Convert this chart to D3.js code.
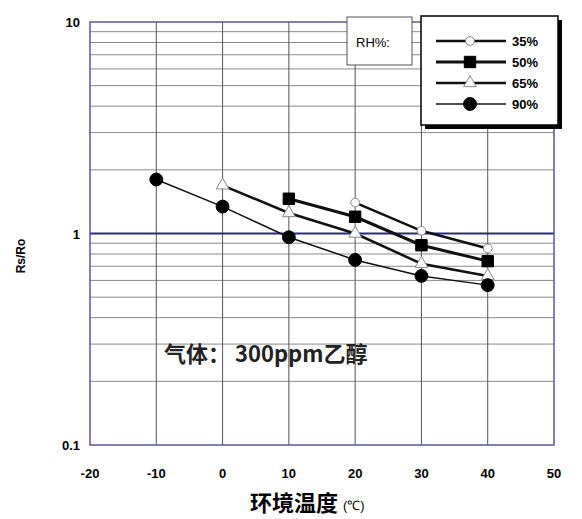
<!DOCTYPE html>
<html>
<head>
<meta charset="utf-8">
<script src="https://cdn.jsdelivr.net/npm/d3@7"></script>
<style>
  body { margin: 0; background: #fff; }
  svg { display: block; }
</style>
</head>
<body>
<svg id="chart" width="582" height="519"></svg>
<script>
// RH series values (temperature, Rs/Ro)
var rh35 = [[20, 1.40], [30, 1.03], [40, 0.85]];
var rh50 = [[10, 1.46], [20, 1.20], [30, 0.88], [40, 0.74]];
var rh65 = [[0, 1.69], [10, 1.25], [20, 1.00], [30, 0.72], [40, 0.63]];
var rh90 = [[-10, 1.80], [0, 1.34], [10, 0.96], [20, 0.75], [30, 0.63], [40, 0.57]];
var xTicks = [-20, -10, 0, 10, 20, 30, 40, 50];
var yTicks = [0.1, 1, 10];
var legendLabels = ['35%', '50%', '65%', '90%'];

var svg = d3.select('#chart');
var pLeft = 90, pRight = 554, pTop = 22, pBottom = 445;

var x = d3.scaleLinear().domain([-20, 50]).range([pLeft, pRight]);
var y = d3.scaleLog().domain([0.1, 10]).range([pBottom, pTop]);

var grid = svg.append('g');
// minor horizontal grid lines
[0.1, 1].forEach(function(dec) {
  for (var k = 2; k <= 9; k++) {
    grid.append('line')
      .attr('x1', pLeft).attr('x2', pRight)
      .attr('y1', y(dec * k)).attr('y2', y(dec * k))
      .attr('stroke', '#8a8a8a').attr('stroke-width', 1);
  }
});
// vertical grid
xTicks.slice(1, -1).forEach(function(t) {
  grid.append('line')
    .attr('x1', x(t)).attr('x2', x(t))
    .attr('y1', pTop).attr('y2', pBottom)
    .attr('stroke', '#555').attr('stroke-width', 1);
});
// major line at 1
grid.append('line')
  .attr('x1', pLeft).attr('x2', pRight)
  .attr('y1', y(1)).attr('y2', y(1))
  .attr('stroke', '#2a2a7a').attr('stroke-width', 2);

svg.append('rect')
  .attr('x', pLeft).attr('y', pTop)
  .attr('width', pRight - pLeft).attr('height', pBottom - pTop)
  .attr('fill', 'none').attr('stroke', '#5a55a0').attr('stroke-width', 1.5);

// tick labels
svg.selectAll('.xt').data(xTicks).enter().append('text')
  .attr('x', function(d) { return x(d); })
  .attr('y', 478)
  .attr('text-anchor', 'middle')
  .attr('font-family', 'Liberation Sans, Arial, sans-serif')
  .attr('font-weight', 'bold').attr('font-size', 13)
  .text(function(d) { return d; });

svg.selectAll('.yt').data(yTicks).enter().append('text')
  .attr('x', 80)
  .attr('y', function(d) { return y(d) + 5; })
  .attr('text-anchor', 'end')
  .attr('font-family', 'Liberation Sans, Arial, sans-serif')
  .attr('font-weight', 'bold').attr('font-size', 13)
  .text(function(d) { return d; });

svg.append('text')
  .attr('transform', 'translate(25,256) rotate(-90)')
  .attr('text-anchor', 'middle')
  .attr('font-family', 'Liberation Sans, Arial, sans-serif')
  .attr('font-weight', 'bold').attr('font-size', 12)
  .text('Rs/Ro');

svg.append('text')
  .attr('x', 250).attr('y', 511)
  .attr('font-family', 'Noto Sans CJK SC, sans-serif')
  .attr('font-weight', 'bold').attr('font-size', 22)
  .text('环境温度');
svg.append('text')
  .attr('x', 343).attr('y', 510)
  .attr('font-family', 'Liberation Sans, Arial, sans-serif')
  .attr('font-size', 13)
  .text('(℃)');

svg.append('text')
  .attr('x', 164).attr('y', 362)
  .attr('font-family', 'Noto Sans CJK SC, sans-serif')
  .attr('font-weight', 'bold').attr('font-size', 22)
  .attr('fill', '#222')
  .text('气体： 300ppm乙醇');

// series
var series = [
  {data: rh35, shape: 'circle', fill: '#fff', width: 2.5},
  {data: rh50, shape: 'square', fill: '#000', width: 3},
  {data: rh65, shape: 'triangle', fill: '#fff', width: 2.5},
  {data: rh90, shape: 'circle', fill: '#000', width: 1.5}
];

var line = d3.line()
  .x(function(d) { return x(d[0]); })
  .y(function(d) { return y(d[1]); });

function marker(g, shape, fill, cx, cy) {
  var sym = shape === 'square' ? d3.symbolSquare : shape === 'triangle' ? d3.symbolTriangle : d3.symbolCircle;
  var size = shape === 'square' ? 130 : shape === 'triangle' ? 70 : (fill === '#000' ? 130 : 60);
  g.append('path')
    .attr('d', d3.symbol().type(sym).size(size)())
    .attr('transform', 'translate(' + cx + ',' + cy + ')')
    .attr('fill', fill)
    .attr('stroke', fill === '#000' ? '#000' : '#888')
    .attr('stroke-width', 1);
}

var plot = svg.append('g');
series.forEach(function(s) {
  plot.append('path').datum(s.data)
    .attr('d', line)
    .attr('fill', 'none').attr('stroke', '#111').attr('stroke-width', s.width);
});
series.forEach(function(s) {
  s.data.forEach(function(d) { marker(plot, s.shape, s.fill, x(d[0]), y(d[1])); });
});

// RH% box
svg.append('rect').attr('x', 347).attr('y', 17).attr('width', 65).attr('height', 48)
  .attr('fill', '#fff').attr('stroke', '#555').attr('stroke-width', 1);
svg.append('text').attr('x', 356).attr('y', 47)
  .attr('font-family', 'Liberation Sans, Arial, sans-serif')
  .attr('font-size', 13).text('RH%:');

// legend box with shadow
svg.append('rect').attr('x', 425).attr('y', 20).attr('width', 137).attr('height', 109)
  .attr('fill', '#000');
svg.append('rect').attr('x', 421).attr('y', 16).attr('width', 137).attr('height', 109)
  .attr('fill', '#fff').attr('stroke', '#000').attr('stroke-width', 1.5);

var leg = svg.append('g');
series.forEach(function(s, i) {
  var ly = 41 + i * 21;
  leg.append('line').attr('x1', 436).attr('x2', 506).attr('y1', ly).attr('y2', ly)
    .attr('stroke', '#111').attr('stroke-width', s.width);
  marker(leg, s.shape, s.fill, 470, ly);
  leg.append('text').attr('x', 512).attr('y', ly + 5)
    .attr('font-family', 'Liberation Sans, Arial, sans-serif')
    .attr('font-weight', 'bold').attr('font-size', 13)
    .text(legendLabels[i]);
});
</script>
</body>
</html>
